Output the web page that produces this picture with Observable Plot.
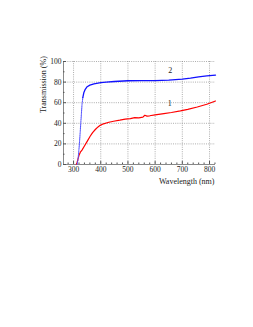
<!DOCTYPE html>
<html><head><meta charset="utf-8">
<script src="https://cdn.jsdelivr.net/npm/d3@7"></script>
<script src="https://cdn.jsdelivr.net/npm/@observablehq/plot@0.6"></script>
<style>body{margin:0;background:#fff}</style>
</head><body><div id="chart"></div>
<script>
const blueWl = [313,316,319,322,325,328,331,334,338,343,350,360,375,390,400,420,450,500,550,600,650,700,730,760,790,822];
const blueT  = [0,4,12,22,34,46,58,65,70,73,75.5,77,78.3,79,79.4,80,80.6,81.3,81.5,81.5,82,82.8,83.8,85,86,86.8];
const redWl = [310,313,316,320,325,331,340,349,361,370,380,390,398,410,430,447,470,490,509,525,540,555,562,570,580,600,632,660,693,720,755,790,822];
const redT  = [0,2,5,9,12,14,18,22,27.4,31,34,36.5,38,39.5,41,42,43,44,44.5,45.5,45.3,46,47.8,47,47.3,48.2,49.4,50.5,52,53.5,55.8,58.5,61.6];
const xTicks = [300,400,500,600,700,800];
const yTicks = [0,20,40,60,80,100];
const labelWl = [654,656];
const labelT = [55.8,87];
const labelText = ["1","2"];

const blue = blueWl.map((w,i)=>({w, t: blueT[i]}));
const red = redWl.map((w,i)=>({w, t: redT[i]}));
const labels = labelWl.map((w,i)=>({w, t: labelT[i], s: labelText[i]}));
const xMinor = d3.range(280, 822, 20).filter(v=>!xTicks.includes(v));
const yMinor = d3.range(10, 100, 20);
const steep = blue.filter(d=>d.t<=66);
const flat = blue.filter(d=>d.t>=65);
const ink = "#222";

const chart = Plot.plot({
  width: 253, height: 195,
  marginLeft: 63, marginRight: 38, marginTop: 61, marginBottom: 31,
  style: {fontFamily: "'Liberation Serif', serif", fontSize: "7.5px", color: ink, background: "#fff"},
  x: {domain: [263, 822]},
  y: {domain: [0, 100]},
  marks: [
    Plot.gridX(xTicks, {stroke: "#777", strokeOpacity: 1, strokeDasharray: "1,1.2", strokeWidth: 0.6}),
    Plot.gridY(yTicks.filter(v=>v>0), {stroke: "#777", strokeOpacity: 1, strokeDasharray: "1,1.2", strokeWidth: 0.6}),
    Plot.ruleY([0], {stroke: "#555", strokeWidth: 0.7}),
    Plot.ruleX([263], {stroke: "#555", strokeWidth: 0.7}),
    Plot.axisX(xTicks, {tickSize: -3, tickPadding: 5, label: null, stroke: "#555", fill: ink}),
    Plot.axisX(xMinor, {tickSize: -1.5, tickFormat: null, label: null, text: null, stroke: "#555"}),
    Plot.axisY(yTicks, {tickSize: -3, tickPadding: 5, label: null, stroke: "#555", fill: ink}),
    Plot.axisY(yMinor, {tickSize: -1.5, tickFormat: null, label: null, text: null, stroke: "#555"}),
    Plot.line(red, {x: "w", y: "t", stroke: "#f00", strokeWidth: 1.2}),
    Plot.line(steep, {x: "w", y: "t", stroke: "#55f", strokeWidth: 1.1, strokeDasharray: "0.8,1"}),
    Plot.line(flat, {x: "w", y: "t", stroke: "#11f", strokeWidth: 1.3}),
    Plot.text(labels, {x: "w", y: "t", text: "s", fontSize: 8, dy: -4, fill: ink}),
    Plot.text(["Wavelength (nm)"], {frameAnchor: "bottom-right", text: d=>d, dy: 19, dx: -1, fontSize: 8, textAnchor: "end", fill: ink}),
    Plot.text(["Transmission (%)"], {frameAnchor: "left", text: d=>d, dx: -20, dy: 0, rotate: -90, fontSize: 8, fill: ink})
  ]
});
document.getElementById("chart").append(chart);
</script>
</body></html>
